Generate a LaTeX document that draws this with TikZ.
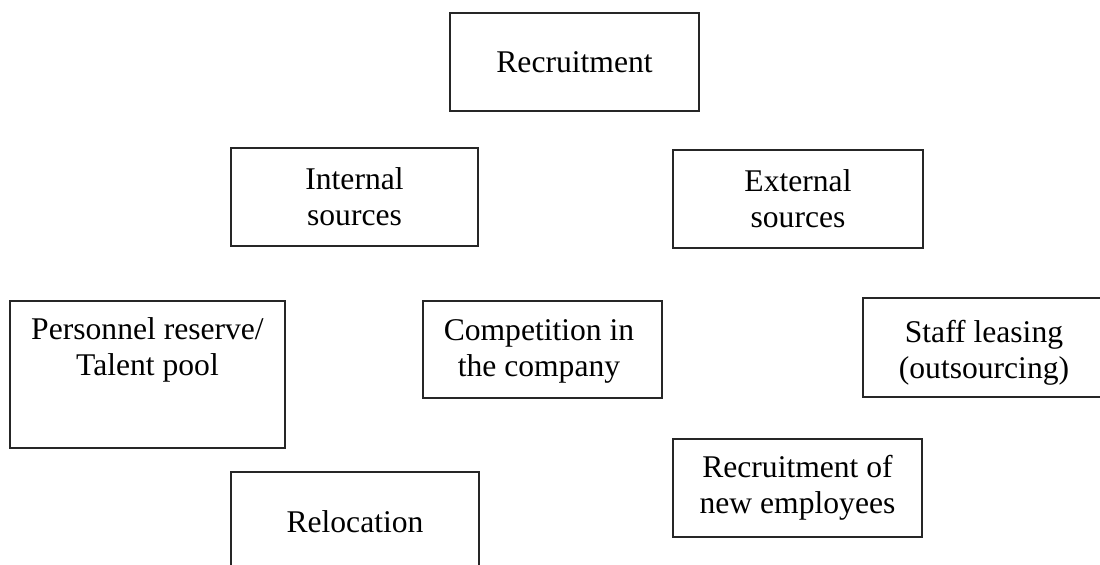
\documentclass[tikz,border=0pt]{standalone}
\usepackage{fontspec}
\setmainfont{Liberation Serif}
\begin{document}
\begin{tikzpicture}[x=0.5pt, y=-0.5pt,
  box/.style={draw=black!85, line width=0.7pt, rectangle, inner sep=0pt},
  txt/.style={align=center, inner sep=0pt,
    font=\fontsize{15.8}{18}\selectfont}]
  \useasboundingbox (0,0) rectangle (1100,565);
  \clip (0,0) rectangle (1100,565);

  % frames
  \node[box, minimum width=124.5pt, minimum height=49pt]   (rec)   at (574.5,62)  {};
  \node[box, minimum width=123.5pt, minimum height=49pt]   (int)   at (354.5,197) {};
  \node[box, minimum width=125pt,   minimum height=49pt]   (ext)   at (798,199)   {};
  \node[box, minimum width=137.5pt, minimum height=73.5pt] (pers)  at (147.5,374.5) {};
  \node[box, minimum width=119.5pt, minimum height=48.5pt] (comp)  at (542.5,349.5) {};
  \node[box, minimum width=121pt,   minimum height=49.5pt] (staff) at (984,347.5) {};
  \node[box, minimum width=124pt,   minimum height=64pt]   (reloc) at (355,536)   {};
  \node[box, minimum width=124.5pt, minimum height=49pt]   (newem) at (797.5,488) {};

  % labels
  \node[txt] (recT)   at (rec.center)   {Recruitment};
  \node[txt] (intT)   at (int.center)   {Internal\\sources};
  \node[txt] (extT)   at (ext.center)   {External\\sources};
  \node[txt, anchor=north] (persT) at (147.5,317) {Personnel reserve/\\Talent pool};
  \node[txt] (compT)  at (539,351)      {Competition in\\the company};
  \node[txt] (staffT) at (984,353)      {Staff leasing\\(outsourcing)};
  \node[txt] (relocT) at (355,522)      {Relocation};
  \node[txt] (newemT) at (newem.center) {Recruitment of\\new employees};
\end{tikzpicture}
\end{document}
